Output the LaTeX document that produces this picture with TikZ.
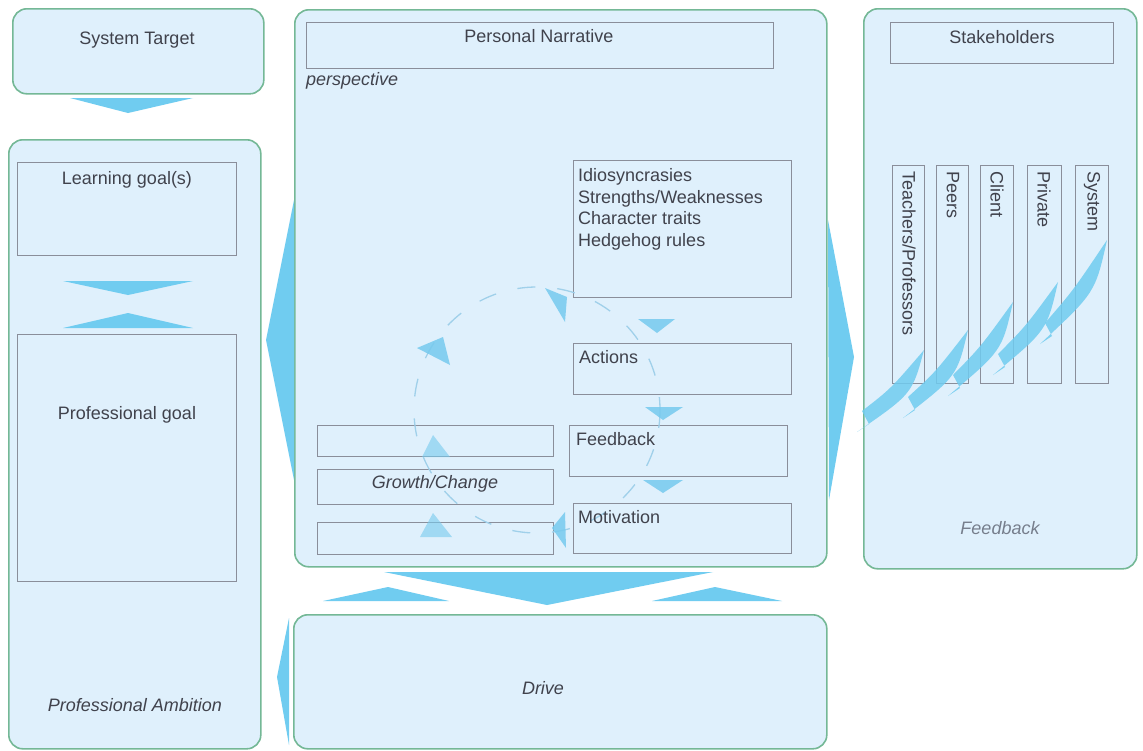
\documentclass[tikz,border=0pt]{standalone}
\usepackage{fontspec}
\setmainfont{Liberation Sans}
\usetikzlibrary{calc}

\definecolor{panelfill}{RGB}{223,240,252}
\definecolor{panelline}{RGB}{116,184,150}
\definecolor{boxline}{RGB}{138,142,154}
\definecolor{flow}{RGB}{112,204,240}
\definecolor{cyclearrow}{RGB}{118,202,238}
\definecolor{cycledash}{RGB}{160,208,234}
\definecolor{txt}{RGB}{64,66,76}
\definecolor{softtxt}{RGB}{118,126,140}

% a curved feather: tail (#1,#2), tip (#3,#4)
\newcommand\feather[4]{%
  \fill[flow, fill opacity=.85]
    (#1,#2) .. controls ({#1+0.6*(#3-#1)+15},{#2+0.6*(#4-#2)+11}) .. (#3,#4)
    .. controls ({#1+0.5*(#3-#1)},{#2+0.5*(#4-#2)-2}) .. ({#1+5},{#2-21})
    -- ({#1+12},{#2-8}) -- cycle;}

\begin{document}
\begin{tikzpicture}[x=1pt,y=-1pt,
  panel/.style={draw=panelline, line width=1.6pt, fill=panelfill,
    rounded corners=14pt, anchor=north west, inner sep=0pt},
  inbox/.style={draw=boxline, line width=0.8pt, anchor=north west, inner sep=0pt},
  lbl/.style={text=txt, font=\fontsize{18}{22}\selectfont, inner sep=0pt, anchor=base},
  lblw/.style={lbl, anchor=base west},
  ital/.style={lbl, font=\fontsize{18}{22}\selectfont\itshape},
  soft/.style={ital, text=softtxt},
  vert/.style={text=txt, font=\fontsize{18}{22}\selectfont, inner sep=0pt,
    rotate=-90, anchor=west},
  bigflow/.style={fill=flow},
  cyc/.style={fill=cyclearrow, fill opacity=.85},
]
\useasboundingbox[fill=white] (0,0) rectangle (1143,750);

% ---- panels ----
\node[panel, minimum width=251pt, minimum height=85pt]  (target) at (12,8) {};
\node[panel, minimum width=252pt, minimum height=609pt] (ambition) at (8,139) {};
\node[panel, minimum width=532pt, minimum height=557pt] (narrative) at (294,9) {};
\node[panel, minimum width=273pt, minimum height=560pt] (stake) at (863,8) {};
\node[panel, minimum width=533pt, minimum height=134pt] (drive) at (293,614) {};

% ---- flows between panels ----
\fill[bigflow] (70,98) -- (193,98) -- (128,113) -- cycle;
\fill[bigflow] (63,281) -- (193,281) -- (128,295) -- cycle;
\fill[bigflow] (128,313) -- (193,328) -- (63,328) -- cycle;
\fill[bigflow] (294,200) -- (266,340) -- (294,480) -- cycle;
\fill[bigflow] (828,220) -- (854,357) -- (829,500) -- cycle;
\fill[bigflow] (384,572) -- (713,572) -- (547,605) -- cycle;
\fill[bigflow] (323,601) -- (388,587) -- (449,601) -- cycle;
\fill[bigflow] (652,601) -- (715,587) -- (782,601) -- cycle;
\fill[bigflow] (289,618) -- (277,677) -- (289,745) -- cycle;

% ---- inner boxes ----
\node[inbox, minimum width=219pt, minimum height=93pt]  (learn) at (17,162) {};
\node[inbox, minimum width=219pt, minimum height=247pt] (prof) at (17,334) {};
\node[inbox, minimum width=467pt, minimum height=46pt]  (pnbox) at (306,22) {};
\node[inbox, minimum width=218pt, minimum height=137pt] (idio) at (573,160) {};
\node[inbox, minimum width=218pt, minimum height=51pt]  (act) at (573,343) {};
\node[inbox, minimum width=218pt, minimum height=51pt]  (fb) at (569,425) {};
\node[inbox, minimum width=218pt, minimum height=50pt]  (mot) at (573,503) {};
\node[inbox, minimum width=236pt, minimum height=31pt]  (gr1) at (317,425) {};
\node[inbox, minimum width=236pt, minimum height=35pt]  (gr2) at (317,469) {};
\node[inbox, minimum width=236pt, minimum height=32pt]  (gr3) at (317,522) {};
\node[inbox, minimum width=223pt, minimum height=41pt]  (shbox) at (890,22) {};
\node[inbox, minimum width=32pt, minimum height=218pt]  (col1) at (892,165) {};
\node[inbox, minimum width=32pt, minimum height=218pt]  (col2) at (936,165) {};
\node[inbox, minimum width=33pt, minimum height=218pt]  (col3) at (980,165) {};
\node[inbox, minimum width=34pt, minimum height=218pt]  (col4) at (1027,165) {};
\node[inbox, minimum width=33pt, minimum height=218pt]  (col5) at (1075,165) {};

% ---- growth cycle ----
\coordinate (cyc) at (537,410);
\draw[cycledash, line width=1.3pt, dash pattern=on 18pt off 22pt] (cyc) circle (123);
\fill[cyc] (545,288) -- (567,297) -- (565,322) -- cycle;
\fill[cyc] (417,348) -- (443,337) -- (450,365) -- cycle;
\fill[cyc] (638,319) -- (675,319) -- (657,333) -- cycle;
\fill[cyc] (645,407) -- (683,407) -- (663,420) -- cycle;
\fill[cyc] (643,480) -- (683,480) -- (663,493) -- cycle;
\fill[cyc] (565,512) -- (552,528) -- (566,548) -- cycle;
\fill[cyc, fill opacity=.6] (433,435) -- (450,457) -- (422,457) -- cycle;
\fill[cyc, fill opacity=.6] (433,513) -- (452,537) -- (420,537) -- cycle;

% ---- feedback feathers ----
\feather{857}{432}{924}{350}
\feather{903}{418}{968}{330}
\feather{948}{396}{1013}{302}
\feather{993}{375}{1058}{282}
\feather{1040}{344}{1107}{240}

% ---- labels ----
\node[lbl] (tTarget) at (137,44) {System Target};
\node[lbl] (tLearn) at (127,184) {Learning goal(s)};
\node[lbl] (tProf) at (127,419) {Professional goal};
\node[ital] (tAmb) at (135,711) {Professional Ambition};
\node[lbl] (tPN) at (539,42) {Personal Narrative};
\node[ital, anchor=base west] (tPersp) at (306,85) {perspective};
\node[lblw] (tI1) at (578,181) {Idiosyncrasies};
\node[lblw] (tI2) at (578,203) {Strengths/Weaknesses};
\node[lblw] (tI3) at (578,224) {Character traits};
\node[lblw] (tI4) at (578,246) {Hedgehog rules};
\node[lblw] (tAct) at (579,363) {Actions};
\node[lblw] (tFb) at (576,445) {Feedback};
\node[lblw] (tMot) at (578,523) {Motivation};
\node[ital] (tGrowth) at (435,488) {Growth/Change};
\node[lbl] (tStake) at (1002,43) {Stakeholders};
\node[soft] (tFeed) at (1000,534) {Feedback};
\node[ital] (tDrive) at (543,694) {Drive};
\node[vert] (v1) at (909,171) {Teachers/Professors};
\node[vert] (v2) at (953,171) {Peers};
\node[vert] (v3) at (997,171) {Client};
\node[vert] (v4) at (1044,171) {Private};
\node[vert] (v5) at (1092,171) {System};
\end{tikzpicture}
\end{document}
